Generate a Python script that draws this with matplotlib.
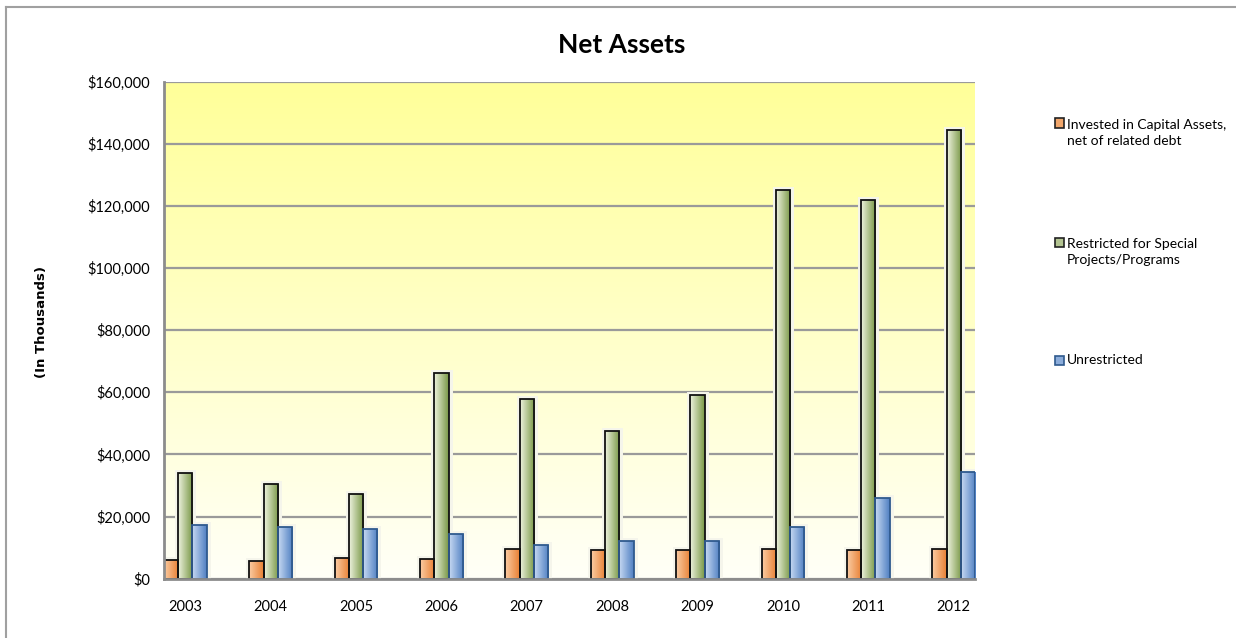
import numpy as np
import matplotlib
matplotlib.use("Agg")
import matplotlib.pyplot as plt
from matplotlib.colors import LinearSegmentedColormap
from matplotlib.patches import Rectangle
from matplotlib.lines import Line2D
import matplotlib.patheffects as pe

years = ["2003", "2004", "2005", "2006", "2007", "2008", "2009", "2010", "2011", "2012"]
invested = [6.1, 5.8, 6.6, 6.4, 9.7, 9.1, 9.1, 9.7, 9.3, 9.7]          # $ thousands (x1000)
restricted = [34.0, 30.4, 27.3, 66.2, 58.0, 47.6, 59.1, 125.2, 121.9, 144.5]
unrestricted = [17.3, 16.7, 16.0, 14.3, 10.8, 12.0, 12.1, 16.7, 25.9, 34.3]
series_names = ["Invested in Capital Assets,\nnet of related debt",
                "Restricted for Special\nProjects/Programs",
                "Unrestricted"]
yticks = [0, 20000, 40000, 60000, 80000, 100000, 120000, 140000, 160000]

series = [np.array(invested) * 1000, np.array(restricted) * 1000, np.array(unrestricted) * 1000]
grads = [((0.98, 0.80, 0.64), (0.91, 0.50, 0.20)),
         ((0.93, 0.95, 0.87), (0.47, 0.59, 0.27)),
         ((0.78, 0.85, 0.95), (0.31, 0.50, 0.76))]
edges = ["#111111", "#111111", "#2F5A8E"]

fig = plt.figure(figsize=(12.36, 6.38), dpi=100)
fig.patch.set_facecolor("white")
ax = fig.add_axes([164/1236, (638-578.7)/638, (975-164)/1236, (578.7-81.7)/638])

# background gradient
bg = LinearSegmentedColormap.from_list("bg", [(1, 1, 0.97), (1, 1, 0.60)])
ax.imshow(np.linspace(0, 1, 256).reshape(-1, 1), cmap=bg, origin="lower",
          extent=[0, 1, 0, 1], transform=ax.transAxes, aspect="auto", zorder=0.1)

x = np.arange(len(years))
w = 1/6
offsets = [-w, 0, w]
for vals, off, (c0, c1), ec in zip(series, offsets, grads, edges):
    bars = ax.bar(x + off, vals, width=w, color=c1, edgecolor="none", zorder=2,
                  path_effects=[pe.SimplePatchShadow(offset=(2, -1), shadow_rgbFace=(0.75, 0.75, 0.72), alpha=0.6),
                                pe.withStroke(linewidth=5, foreground=(0.96, 0.96, 0.92)), pe.Normal()])
    cm = LinearSegmentedColormap.from_list("g", [c0, c1])
    for b in bars:
        x0, y0 = b.get_x(), b.get_y()
        im = ax.imshow(np.linspace(0, 1, 64).reshape(1, -1), cmap=cm, aspect="auto",
                       extent=[x0, x0 + b.get_width(), y0, y0 + b.get_height()], zorder=2.2)
        im.set_clip_path(b)
    ax.bar(x + off, vals, width=w, fill=False, edgecolor=ec, linewidth=1.3, zorder=2.4)

ax.set_xlim(-0.25, len(years) - 0.75)
ax.set_ylim(0, 160000)
ax.set_yticks(yticks)
ax.set_yticklabels([f"${v:,.0f}" for v in yticks])
ax.set_xticks(x)
ax.set_xticklabels(years)
ax.yaxis.grid(True, color="#9a9a9a", linewidth=1.6)
ax.set_axisbelow(True)
ax.tick_params(axis="x", length=0, labelsize=10.5, pad=15)
ax.tick_params(axis="y", length=0, labelsize=10.5, pad=10)
for lab in ax.get_xticklabels() + ax.get_yticklabels():
    lab.set_fontfamily("Lato")
for s in ["top", "right"]:
    ax.spines[s].set_visible(False)
for s in ["left", "bottom"]:
    ax.spines[s].set_color("#8c8c8c")
    ax.spines[s].set_linewidth(2)

fig.text(622/1236, 1 - 45/638, "Net Assets", ha="center", va="center",
         fontsize=19, fontweight="bold", family="Lato")
fig.text(42/1236, 1 - 322/638, "(In Thousands)", ha="center", va="center", rotation=90,
         fontsize=9.5, fontweight="bold", family="DejaVu Sans")

# legend
first_line_y = [123, 242, 360]
n_lines = [2, 2, 1]
for name, ly, nl, (c0, c1), ec in zip(series_names, first_line_y, n_lines, grads, edges):
    sq = 9
    r = Rectangle((1055/1236, 1 - (ly + sq/2)/638), sq/1236, sq/638, transform=fig.transFigure,
                  facecolor=tuple((np.array(c0) + np.array(c1)) / 2),
                  edgecolor=ec if ec != "#111111" else "#222222", linewidth=1.2)
    fig.add_artist(r)
    cy = ly + (nl - 1) * 10
    fig.text(1067/1236, 1 - cy/638, name, ha="left", va="center", fontsize=10,
             family="Lato", linespacing=1.45)

# outer border (left and top edges visible in the crop)
bx, by = 5.5/1236, 1 - 7/638
fig.add_artist(Line2D([bx, bx], [0, by], transform=fig.transFigure, color="#a0a0a0", linewidth=1.5))
fig.add_artist(Line2D([bx, 1], [by, by], transform=fig.transFigure, color="#a0a0a0", linewidth=1.5))

fig.savefig("out.png", dpi=100)
